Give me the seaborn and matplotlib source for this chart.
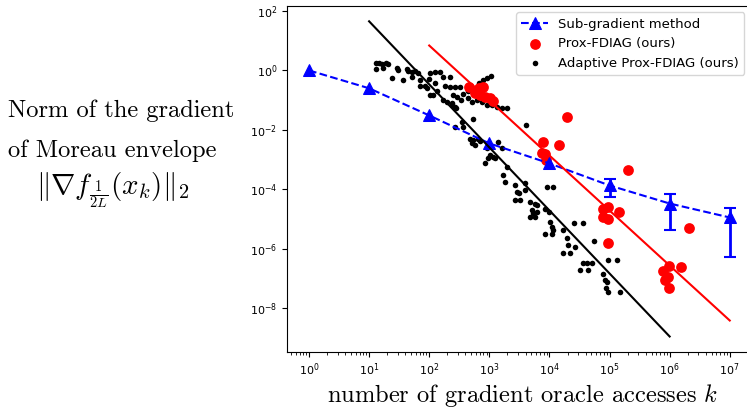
import matplotlib
matplotlib.use("Agg")
import numpy as np
import seaborn as sns
import matplotlib.pyplot as plt
from matplotlib.ticker import NullLocator, LogLocator

# -----------------------------------------------------------------------------
# Data
# -----------------------------------------------------------------------------

sub_k = [1e0, 1e1, 1e2, 1e3, 1e4, 1e5, 1e6, 1e7]
sub_val = [1.0, 0.25, 0.0305, 0.0035, 7.4e-4, 1.34e-4, 3.3e-5, 1.12e-5]
err_k = [1e5, 1e6, 1e7]
err_mid = [1.34e-4, 3.3e-5, 1.12e-5]
err_low = [5.3e-5, 4.1e-6, 5.1e-7]
err_high = [2.14e-4, 6.7e-5, 2.26e-5]

prox_k = [459, 578, 674, 786, 700, 848, 1027, 1153,
          7826, 1.45e4, 7532, 8450, 8780, 1.96e4, 2.03e5,
          7.80e4, 9.44e4, 1.44e5, 7.80e4, 9.44e4, 9.44e4,
          9.77e5, 7.77e5, 9.40e5, 8.38e5, 9.77e5, 1.55e6, 2.10e6]
prox_val = [0.27, 0.18, 0.25, 0.27, 0.144, 0.123, 0.114, 0.090,
            0.0038, 0.0032, 0.0017, 0.0015, 9.3e-4, 0.026, 4.6e-4,
            2.09e-5, 2.44e-5, 1.66e-5, 1.12e-5, 9.6e-6, 1.50e-6,
            2.7e-7, 1.71e-7, 1.07e-7, 8.5e-8, 4.9e-8, 2.5e-7, 4.8e-6]

adapt_k = [13.0, 14.6, 16.4, 19.1, 20.6, 13.0, 17.0, 24.0, 29.1, 30.3,
           36.6, 42.7, 44.4, 51.8, 58.0, 65.1, 51.8, 70.3, 70.3, 85.1,
           91.9, 99.3, 103, 125, 125, 103, 116, 135,
           151, 170, 222, 183, 222, 269, 325, 249, 290, 338,
           365, 170, 198, 239, 279, 442, 442, 515, 578, 674,
           786, 916, 1068, 624, 756, 916, 1109, 1344, 1627, 1971,
           535, 351, 365, 269, 4080, 478, 535, 649, 700, 1397,
           515, 578, 239, 269,
           916, 1027, 1153, 951, 848, 1245, 1627, 1971, 1691, 1825,
           2678, 2891, 3121, 2678, 3243, 3927, 3927, 4756, 5135, 6219,
           4756, 5760, 6219, 5336, 5760,
           8450, 9848, 1.02e4, 1.10e4, 1.15e4, 8450, 1.10e4, 1.68e4, 1.96e4, 2.04e4,
           2.67e4, 1.68e4, 2.20e4, 2.57e4, 3.62e4, 5.53e4, 3.62e4, 4.23e4, 5.12e4, 3.23e4,
           4.39e4, 7.80e4, 8.41e4, 9.08e4, 8.74e4, 9.44e4, 1.50e5, 9.44e4, 1.33e5, 9122,
           1.15e4]
adapt_val = [1.72, 1.72, 1.59, 1.72, 1.59, 1.08, 1.17, 0.54, 1.17, 1.0,
             0.46, 1.08, 0.93, 0.86, 0.93, 0.79, 0.58, 0.46, 0.29, 0.31,
             0.25, 0.50, 0.79, 0.86, 0.37, 0.144, 0.144, 0.21,
             0.86, 0.58, 0.58, 0.31, 0.27, 0.27, 0.27, 0.144, 0.123, 0.098,
             0.156, 0.098, 0.084, 0.077, 0.053, 0.21, 0.114, 0.084, 0.21, 0.39,
             0.46, 0.54, 0.63, 0.098, 0.084, 0.066, 0.066, 0.057, 0.053, 0.053,
             0.024, 0.0177, 0.0120, 0.0120, 0.0141, 0.0051, 0.0044, 0.0051, 0.0041, 0.0038,
             0.0035, 0.0030, 0.066, 0.057,
             0.0024, 0.0014, 0.0012, 0.0011, 7.4e-4, 0.0011, 0.0024, 5.4e-4, 2.9e-4, 1.7e-4,
             1.34e-4, 7.8e-5, 7.2e-5, 4.5e-5, 4.5e-5, 9.1e-5, 1.57e-4, 3.6e-5, 1.93e-5, 1.66e-5,
             1.12e-5, 1.12e-5, 2.85e-5, 1.53e-5, 3.1e-5,
             2.09e-5, 1.66e-5, 7.6e-6, 5.2e-6, 4.4e-6, 3.0e-6, 3.0e-6, 4.4e-6, 2.2e-6, 1.28e-6,
             1.10e-6, 7.4e-7, 7.4e-7, 7.1e-6, 7.1e-6, 1.75e-6, 3.4e-7, 3.4e-7, 3.2e-7, 1.85e-7,
             1.85e-7, 1.35e-7, 8.5e-8, 7.3e-8, 4.6e-8, 3.4e-8, 3.4e-8, 4.0e-7, 4.0e-7, 1.15e-4,
             1.15e-4]

# fitted rate lines (end points)
prox_fit_k = [1e2, 1e7]
prox_fit_val = [6.9, 3.8e-9]
adapt_fit_k = [1e1, 1e6]
adapt_fit_val = [45.0, 1.1e-9]

x_ticks = [1e0, 1e1, 1e2, 1e3, 1e4, 1e5, 1e6, 1e7]
y_ticks = [1e2, 1e0, 1e-2, 1e-4, 1e-6, 1e-8]

# -----------------------------------------------------------------------------
# Plot
# -----------------------------------------------------------------------------

fig = plt.figure(figsize=(7.47, 4.17), dpi=100)
ax = fig.add_axes([0.3842, 0.1559, 0.6212, 0.8305])
ax.set_xscale("log")
ax.set_yscale("log")

sns.lineplot(x=sub_k, y=sub_val, ax=ax, color="blue", linestyle="--",
             linewidth=1.5, marker="^", markersize=8, markeredgecolor="blue",
             errorbar=None, label="Sub-gradient method")
mid = np.array(err_mid)
ax.errorbar(err_k, mid, yerr=[mid - np.array(err_low), np.array(err_high) - mid],
            fmt="none", ecolor="blue", elinewidth=2, capsize=4, capthick=1.5)

sns.scatterplot(x=prox_k, y=prox_val, ax=ax, color="red", s=60, linewidth=0,
                label="Prox-FDIAG (ours)", zorder=1.6)
sns.scatterplot(x=adapt_k, y=adapt_val, ax=ax, color="black", s=16, linewidth=0,
                label="Adaptive Prox-FDIAG (ours)", zorder=1.5)

sns.lineplot(x=prox_fit_k, y=prox_fit_val, ax=ax, color="red", linewidth=1.5)
sns.lineplot(x=adapt_fit_k, y=adapt_fit_val, ax=ax, color="black", linewidth=1.5)

ax.set_xlim(10 ** -0.366, 10 ** 7.354)
ax.set_ylim(10 ** -9.48, 10 ** 2.18)
ax.set_xticks(x_ticks)
ax.xaxis.set_minor_locator(LogLocator(base=10, subs=np.arange(2, 10)))
ax.set_yticks(y_ticks)
ax.yaxis.set_minor_locator(NullLocator())
ax.tick_params(labelsize=8)

ax.legend(loc="upper right", fontsize=9.5)

fig.text(0.0107, 0.7194, "Norm of the gradient", fontsize=17.6,
         family="cmr10", ha="left", va="baseline")
fig.text(0.0107, 0.6235, "of Moreau envelope", fontsize=17.6,
         family="cmr10", ha="left", va="baseline")
fig.text(0.0482, 0.5324, r"$\|\nabla f_{\frac{1}{2L}}(x_k)\|_2$", fontsize=21,
         math_fontfamily="cm", ha="left", va="baseline")
fig.text(0.700, 0.036, "number of gradient oracle accesses $k$", fontsize=17.6,
         family="cmr10", math_fontfamily="cm", ha="center", va="baseline")

fig.savefig("out.png", dpi=100)
plt.close(fig)
